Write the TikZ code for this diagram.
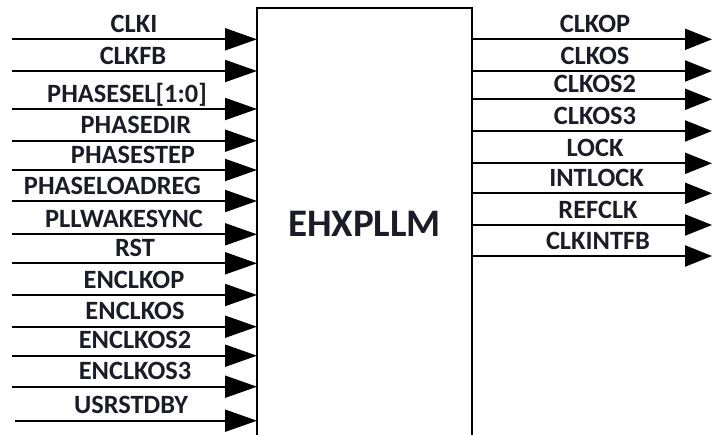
\documentclass[tikz,border=0pt]{standalone}
\usepackage{fontspec}
\setmainfont{Carlito}
\usetikzlibrary{arrows.meta}
\definecolor{txt}{RGB}{28,28,40}
\begin{document}
\begin{tikzpicture}[x=1pt,y=-1pt,
  sigl/.style={line width=2pt, -{Triangle[length=32pt,width=22pt]}},
  sigr/.style={line width=2pt, -{Triangle[length=27pt,width=21pt]}},
  lbl/.style={anchor=base, inner sep=0pt, font=\fontsize{26.4}{30}\selectfont\bfseries, text=txt},
  boxline/.style={line width=2pt}]
\useasboundingbox (0,0) rectangle (712,434);
\clip (0,0) rectangle (712,434);
% block
\node[minimum width=215pt, minimum height=440pt, inner sep=0pt, anchor=north west] (pll) at (257,8) {};
\draw[boxline] (pll.south west) -- (pll.north west) -- (pll.north east) -- (pll.south east);
\node[anchor=base, inner sep=0pt, font=\fontsize{39}{44}\selectfont\bfseries, text=txt] (title) at (364.5,236.5) {EHXPLLM};
% inputs
\foreach \n/\y/\x/\s/\t in {
  1/39.3/134/12/CLKI,
  2/71/133/12/CLKFB,
  3/109/127/12/{PHASESEL[1:0]},
  4/140.7/136/12/PHASEDIR,
  5/170/133/12/PHASESTEP,
  6/201/112.5/12/PHASELOADREG,
  7/234.3/124/12/PLLWAKESYNC,
  8/263.3/135/12/RST,
  9/295/134/12/ENCLKOP,
  10/326.7/135/12/ENCLKOS,
  11/355.7/135/12/ENCLKOS2,
  12/386.7/135/12/ENCLKOS3,
  13/420.7/131/15/USRSTDBY} {
  \coordinate (in\n) at (\s,\y);
  \node[lbl] (inl\n) at (\x,\y-7) {\t};
  \draw[sigl] (in\n) -- (pll.west |- in\n);
}
% outputs
\foreach \n/\y/\x/\t in {
  1/39.3/595/CLKOP,
  2/71/595/CLKOS,
  3/99.3/595/CLKOS2,
  4/131/595/CLKOS3,
  5/163.3/595/LOCK,
  6/193.3/596.5/INTLOCK,
  7/225/598/REFCLK,
  8/256/598/CLKINTFB} {
  \coordinate (out\n) at (712,\y);
  \node[lbl] (outl\n) at (\x,\y-7) {\t};
  \draw[sigr] (pll.east |- out\n) -- (out\n);
}
\end{tikzpicture}
\end{document}
